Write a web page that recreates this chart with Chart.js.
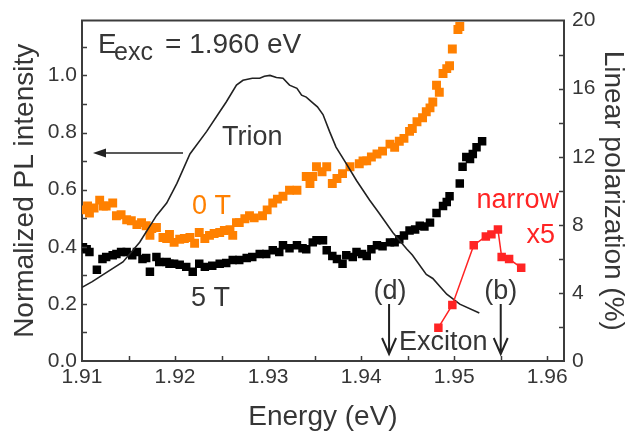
<!DOCTYPE html>
<html>
<head>
<meta charset="utf-8">
<script src="https://cdn.jsdelivr.net/npm/chart.js@4"></script>
<style>
  html, body { margin: 0; padding: 0; background: #fff; }
  canvas { display: block; }
</style>
</head>
<body>
<canvas id="c" width="632" height="436"></canvas>
<script>
// Trion PL spectrum (normalized, left axis)
const trionEnergy = [1.9100, 1.9111, 1.9144, 1.9162, 1.9180, 1.9191, 1.9202, 1.9216, 1.9234, 1.9248,
  1.9255, 1.9266, 1.9273, 1.9283, 1.9291, 1.9296, 1.9302, 1.9309, 1.9316, 1.9323,
  1.9331, 1.9336, 1.9341, 1.9348, 1.9353, 1.9359, 1.9366, 1.9373, 1.9384, 1.9395,
  1.9409, 1.9419, 1.9434, 1.9449, 1.9455, 1.9470, 1.9477, 1.9492, 1.9506, 1.9527];
const trionPL = [0.258, 0.278, 0.347, 0.416, 0.509, 0.553, 0.622, 0.725, 0.804, 0.873,
  0.907, 0.966, 0.983, 0.990, 0.990, 0.997, 1.000, 0.993, 0.990, 0.966,
  0.955, 0.931, 0.924, 0.904, 0.890, 0.863, 0.804, 0.749, 0.691, 0.632,
  0.564, 0.519, 0.450, 0.392, 0.371, 0.303, 0.289, 0.234, 0.199, 0.168];

// Linear polarization at 0 T (right axis, %)
const zeroFieldEnergy = [1.9101, 1.9106, 1.9108, 1.9113, 1.9119, 1.9123, 1.9126, 1.9133, 1.9137, 1.9142,
  1.9148, 1.9153, 1.9159, 1.9164, 1.9169, 1.9173, 1.9175, 1.9180, 1.9187, 1.9191,
  1.9194, 1.9199, 1.9205, 1.9210, 1.9216, 1.9221, 1.9226, 1.9232, 1.9237, 1.9242,
  1.9248, 1.9253, 1.9259, 1.9262, 1.9266, 1.9269, 1.9275, 1.9280, 1.9285, 1.9294,
  1.9299, 1.9305, 1.9310, 1.9316, 1.9323, 1.9331, 1.9341, 1.9345, 1.9348, 1.9352,
  1.9358, 1.9363, 1.9369, 1.9374, 1.9380, 1.9388, 1.9398, 1.9402, 1.9406, 1.9411,
  1.9417, 1.9423, 1.9431, 1.9436, 1.9441, 1.9446, 1.9452, 1.9455, 1.9460, 1.9466,
  1.9470, 1.9474, 1.9477, 1.9481, 1.9484, 1.9488, 1.9492, 1.9495, 1.9498, 1.9504, 1.9506];
const zeroFieldPol = [8.88, 9.11, 8.70, 8.99, 9.45, 9.11, 9.11, 9.28, 8.53, 8.59,
  8.30, 8.24, 8.01, 8.13, 7.95, 7.38, 7.78, 7.84, 7.26, 7.20,
  7.44, 6.97, 7.15, 7.20, 7.26, 6.92, 7.55, 7.20, 7.38, 7.49,
  7.55, 7.67, 7.72, 7.38, 8.13, 8.13, 8.36, 8.53, 8.41, 8.53,
  8.88, 9.28, 9.51, 9.68, 10.03, 10.03, 10.84, 10.43, 10.84, 11.41,
  11.12, 11.41, 10.43, 10.72, 11.01, 11.41, 11.59, 11.76, 11.76, 11.99,
  12.16, 12.33, 12.74, 12.56, 12.91, 13.08, 13.49, 13.66, 14.06, 14.29,
  14.64, 14.87, 15.22, 16.20, 15.79, 16.89, 17.18, 17.35, 18.33, 19.48, 19.65];

// Linear polarization at 5 T (right axis, %)
const fiveTeslaEnergy = [1.9101, 1.9105, 1.9108, 1.9116, 1.9122, 1.9126, 1.9133, 1.9137, 1.9142, 1.9148,
  1.9154, 1.9159, 1.9165, 1.9169, 1.9173, 1.9180, 1.9183, 1.9191, 1.9194, 1.9199,
  1.9205, 1.9212, 1.9219, 1.9226, 1.9232, 1.9240, 1.9248, 1.9255, 1.9262, 1.9269,
  1.9277, 1.9283, 1.9291, 1.9298, 1.9305, 1.9312, 1.9316, 1.9323, 1.9331, 1.9337,
  1.9341, 1.9348, 1.9352, 1.9359, 1.9363, 1.9369, 1.9374, 1.9380, 1.9384, 1.9391,
  1.9395, 1.9401, 1.9406, 1.9411, 1.9417, 1.9423, 1.9431, 1.9436, 1.9441, 1.9446,
  1.9452, 1.9458, 1.9463, 1.9468, 1.9474, 1.9481, 1.9488, 1.9492, 1.9495, 1.9506,
  1.9509, 1.9513, 1.9517, 1.9520, 1.9524, 1.9530];
const fiveTeslaPol = [6.69, 6.57, 6.40, 5.36, 5.99, 6.11, 6.22, 6.28, 6.40, 6.40,
  6.22, 6.40, 5.99, 6.05, 5.24, 6.11, 5.82, 5.82, 5.71, 5.71,
  5.65, 5.53, 5.24, 5.71, 5.53, 5.59, 5.71, 5.76, 5.94, 5.94,
  6.05, 6.11, 6.28, 6.28, 6.51, 6.40, 6.80, 6.63, 6.80, 6.63,
  6.57, 6.97, 7.09, 7.09, 6.51, 6.17, 5.99, 5.71, 6.22, 6.11,
  6.40, 6.28, 6.17, 6.57, 6.80, 6.74, 6.97, 6.97, 7.15, 7.38,
  7.67, 7.72, 7.95, 7.90, 8.13, 8.70, 9.11, 9.34, 9.68, 10.43,
  11.41, 11.99, 11.87, 12.16, 12.56, 12.91];

// Narrow exciton line polarization (x5, right axis, %)
const narrowEnergy = [1.9483, 1.9498, 1.9521, 1.9534, 1.9540, 1.9547, 1.9551, 1.9559, 1.9572];
const narrowPol = [1.96, 3.29, 6.80, 7.32, 7.44, 7.72, 6.11, 5.99, 5.48];

// Axis ticks
const energyTicks = [1.91, 1.92, 1.93, 1.94, 1.95, 1.96];
const plTicks = [0.0, 0.2, 0.4, 0.6, 0.8, 1.0];
const polTicks = [0, 4, 8, 12, 16, 20];

// Excitation energies marked with arrows
const markerEnergyD = 1.943;
const markerEnergyB = 1.955;

const FONT = '"Liberation Sans", Arial, Helvetica, sans-serif';
const INK = '#363636';
const AXIS = '#3c3c3c';
const ORANGE = '#ff8000';
const RED = '#ff2424';

const pts = (xs, ys) => xs.map((x, i) => ({ x: x, y: ys[i] }));

// Frame top edge, inward tick marks and text notes
const frameAndNotes = {
  id: 'frameAndNotes',
  afterDatasetsDraw(chart) {
    const { ctx, chartArea: a, scales } = chart;
    const x = scales.x, y = scales.y, y2 = scales.y2;
    ctx.save();
    ctx.strokeStyle = AXIS;
    ctx.lineWidth = 2;
    ctx.beginPath();
    ctx.moveTo(a.left - 1, a.top);
    ctx.lineTo(a.right + 1, a.top);
    ctx.stroke();

    ctx.lineWidth = 1.5;
    ctx.beginPath();
    for (let k = 1; k <= 10; k++) {
      const px = Math.round(x.getPixelForValue(1.91 + k * 0.005)) + 0.5;
      ctx.moveTo(px, a.bottom);
      ctx.lineTo(px, a.bottom - 5);
    }
    for (let k = 1; k <= 11; k++) {
      const py = Math.round(y.getPixelForValue(k * 0.1)) + 0.5;
      ctx.moveTo(a.left, py);
      ctx.lineTo(a.left + 5, py);
    }
    for (let k = 1; k <= 9; k++) {
      const py = Math.round(y2.getPixelForValue(k * 2)) + 0.5;
      ctx.moveTo(a.right, py);
      ctx.lineTo(a.right - 5, py);
    }
    ctx.stroke();

    // Excitation label
    ctx.fillStyle = INK;
    ctx.textBaseline = 'alphabetic';
    ctx.textAlign = 'left';
    ctx.font = '28px ' + FONT;
    ctx.fillText('E', 98, 53);
    ctx.font = '25px ' + FONT;
    ctx.fillText('exc', 114, 60);
    ctx.font = '28px ' + FONT;
    ctx.fillText('= 1.960 eV', 165, 53);

    // Trion label with arrow to the left axis
    ctx.font = '27px ' + FONT;
    ctx.fillText('Trion', 222, 145);
    ctx.lineWidth = 1.5;
    ctx.strokeStyle = '#222';
    ctx.beginPath();
    ctx.moveTo(183, 153);
    ctx.lineTo(102, 153);
    ctx.stroke();
    ctx.fillStyle = '#222';
    ctx.beginPath();
    ctx.moveTo(93, 153);
    ctx.lineTo(106, 148.5);
    ctx.lineTo(106, 157.5);
    ctx.closePath();
    ctx.fill();

    // Field labels
    ctx.fillStyle = ORANGE;
    ctx.fillText('0 T', 192, 214);
    ctx.fillStyle = INK;
    ctx.fillText('5 T', 191, 306);

    // Narrow line label
    ctx.fillStyle = RED;
    ctx.textAlign = 'right';
    ctx.fillText('narrow', 559, 208);
    ctx.fillText('x5', 555, 243);

    // Exciton arrows
    ctx.fillStyle = INK;
    ctx.textAlign = 'center';
    const pd = x.getPixelForValue(markerEnergyD);
    const pb = x.getPixelForValue(markerEnergyB);
    ctx.fillText('(d)', pd + 1, 299);
    ctx.fillText('(b)', pb, 299);
    ctx.textAlign = 'left';
    ctx.fillText('Exciton', 399, 350);
    ctx.strokeStyle = '#222';
    ctx.lineWidth = 2;
    [pd, pb].forEach(px => {
      ctx.beginPath();
      ctx.moveTo(px, 304);
      ctx.lineTo(px, 354);
      ctx.moveTo(px - 7, 338);
      ctx.lineTo(px, 354);
      ctx.lineTo(px + 7, 338);
      ctx.stroke();
    });
    ctx.restore();
  }
};

const tickFont = { family: FONT, size: 21 };
const titleFont = { family: FONT, size: 28, lineHeight: 1 };

new Chart(document.getElementById('c'), {
  type: 'scatter',
  data: {
    datasets: [
      {
        label: 'narrow x5',
        data: pts(narrowEnergy, narrowPol),
        yAxisID: 'y2',
        showLine: true,
        borderColor: RED,
        borderWidth: 1.5,
        pointStyle: 'rect',
        pointRadius: 6,
        pointBackgroundColor: RED,
        pointBorderWidth: 0
      },
      {
        label: 'Trion',
        data: pts(trionEnergy, trionPL),
        yAxisID: 'y',
        showLine: true,
        borderColor: '#222222',
        borderWidth: 1.6,
        pointRadius: 0,
        tension: 0
      },
      {
        label: '5 T',
        data: pts(fiveTeslaEnergy, fiveTeslaPol),
        yAxisID: 'y2',
        pointStyle: 'rect',
        pointRadius: 6,
        pointBackgroundColor: '#000000',
        pointBorderWidth: 0
      },
      {
        label: '0 T',
        data: pts(zeroFieldEnergy, zeroFieldPol),
        yAxisID: 'y2',
        pointStyle: 'rect',
        pointRadius: 6.3,
        pointBackgroundColor: ORANGE,
        pointBorderWidth: 0
      }
    ]
  },
  options: {
    responsive: false,
    animation: false,
    devicePixelRatio: 1,
    layout: { padding: { top: 14, left: 0, right: 0, bottom: 0 } },
    plugins: { legend: { display: false }, tooltip: { enabled: false } },
    scales: {
      x: {
        type: 'linear',
        position: 'bottom',
        min: 1.91,
        max: 1.9618,
        afterFit(s) { s.height = 75; },
        afterBuildTicks(s) { s.ticks = energyTicks.map(v => ({ value: v })); },
        ticks: { callback: v => v.toFixed(2), font: tickFont, color: INK, padding: 4, maxRotation: 0, autoSkip: false },
        grid: { display: false, drawTicks: false },
        border: { display: true, color: AXIS, width: 2 },
        title: { display: true, text: 'Energy (eV)', font: titleFont, color: INK, padding: { top: 0, bottom: 5 } }
      },
      y: {
        type: 'linear',
        position: 'left',
        min: 0,
        max: 1.192,
        afterFit(s) { s.width = 82; },
        afterBuildTicks(s) { s.ticks = plTicks.map(v => ({ value: v })); },
        ticks: { callback: v => v.toFixed(1), font: tickFont, color: INK, padding: 5 },
        grid: { display: false, drawTicks: false },
        border: { display: true, color: AXIS, width: 2 },
        title: { display: true, text: 'Normalized PL intensity', font: titleFont, color: INK, padding: { top: 11, bottom: 0 } }
      },
      y2: {
        type: 'linear',
        position: 'right',
        min: 0,
        max: 20,
        afterFit(s) { s.width = 68; },
        afterBuildTicks(s) { s.ticks = polTicks.map(v => ({ value: v })); },
        ticks: { callback: v => String(v), font: tickFont, color: INK, padding: 8 },
        grid: { display: false, drawTicks: false },
        border: { display: true, color: AXIS, width: 2 },
        title: { display: true, text: 'Linear polarization (%)', font: titleFont, color: INK, padding: { top: 5, bottom: 0 } }
      }
    }
  },
  plugins: [frameAndNotes]
});
</script>
</body>
</html>
